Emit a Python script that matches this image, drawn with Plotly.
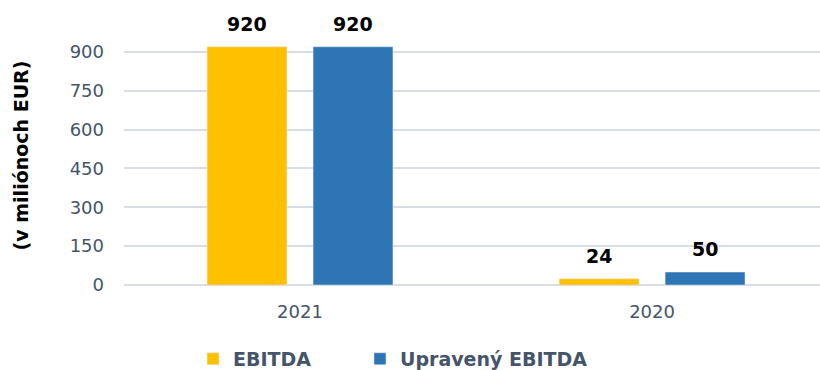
import plotly.graph_objects as go

years = ["2021", "2020"]
ebitda = [920, 24]
upraveny = [920, 50]
series_names = ["EBITDA", "Upravený EBITDA"]
y_ticks = [0, 150, 300, 450, 600, 750, 900]

YELLOW = "#FFC000"
BLUE = "#2E75B6"
AXIS_TEXT = "#44546A"
FONT = "DejaVu Sans"

fig = go.Figure()
fig.add_trace(go.Bar(x=years, y=ebitda, name=series_names[0],
                     marker_color=YELLOW, legend="legend", showlegend=True))
fig.add_trace(go.Bar(x=years, y=upraveny, name=series_names[1],
                     marker_color=BLUE, legend="legend2", showlegend=True))

# value labels above each bar (x given as category index)
for values, shift in ((ebitda, -53), (upraveny, 53)):
    for i, v in enumerate(values):
        fig.add_annotation(
            x=i, y=v, xref="x", yref="y", text=f"<b>{v}</b>", showarrow=False,
            xshift=shift, yshift=10, yanchor="bottom",
            font=dict(family=FONT, size=19, color="#000000"),
        )

legend_style = dict(
    orientation="h", xref="container", yref="container",
    xanchor="left", y=0.03, yanchor="middle", visible=True,
    font=dict(family=FONT, size=19, color=AXIS_TEXT, weight="bold"),
    itemwidth=30, bgcolor="rgba(0,0,0,0)",
)

fig.update_layout(
    width=820, height=370,
    margin=dict(l=124, r=0, t=26, b=85),
    paper_bgcolor="white", plot_bgcolor="white",
    showlegend=True,
    barmode="group", bargap=0.398, bargroupgap=0.246,
    font=dict(family=FONT, size=18, color=AXIS_TEXT),
    legend=dict(x=0.2354, **legend_style),
    legend2=dict(x=0.4390, **legend_style),
    xaxis=dict(
        type="category", range=[-0.5, 1.477], showgrid=False, showline=False,
        zeroline=False, ticklabelstandoff=14, tickfont=dict(size=18, color=AXIS_TEXT),
    ),
    yaxis=dict(
        range=[0, 1000], tickvals=y_ticks, showgrid=True, gridcolor="#D9DEE6",
        gridwidth=1.5, zeroline=True, zerolinecolor="#D9DEE6", zerolinewidth=1.5,
        showline=False, ticklabelstandoff=19,
        tickfont=dict(size=18, color=AXIS_TEXT),
        title=dict(text="<b>(v miliónoch EUR)</b>", standoff=35,
                   font=dict(family=FONT, size=19, color="#000000")),
    ),
)

fig.write_html("out.html")
